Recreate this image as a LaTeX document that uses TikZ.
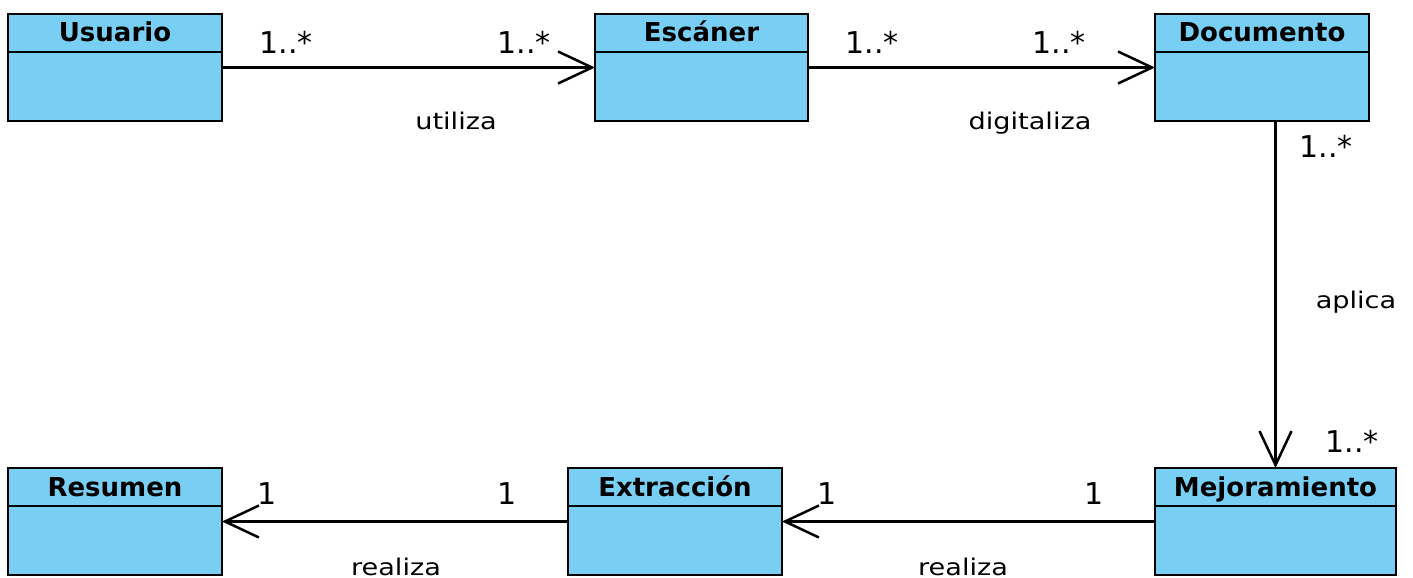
\documentclass[tikz,border=0pt]{standalone}
\usepackage{fontspec}
\setmainfont{DejaVu Sans}
\newfontfamily\rolfont[FakeStretch=1.18]{DejaVu Sans}
\usetikzlibrary{arrows.meta}
\definecolor{azulclase}{RGB}{121,207,243}

\tikzset{
  clase/.style={draw, fill=azulclase, line width=2.5pt, inner sep=0pt, outer sep=0pt, minimum width=214pt, minimum height=107pt},
  titulo/.style={anchor=base, font=\fontsize{26}{28}\selectfont\bfseries},
  mult/.style={anchor=base, font=\fontsize{30}{32}\selectfont},
  rol/.style={anchor=base, font=\rolfont\fontsize{23}{25}\selectfont},
  asoc/.style={line width=2.5pt, -{Straight Barb[length=34pt,width=32pt]}}
}

\begin{document}
\begin{tikzpicture}[x=1pt,y=-1pt]
\useasboundingbox (0,0) rectangle (1413,578);

% clases de arriba
\node [clase] (usuario) at (115,67.5) {};
\draw [line width=2.5pt] ([yshift=-38pt]usuario.north west) -- ([yshift=-38pt]usuario.north east);
\node [titulo] (usuario-t) at ([yshift=-28pt]usuario.north) {Usuario};

\node [clase, minimum width=213pt] (escaner) at (701.5,67.5) {};
\draw [line width=2.5pt] ([yshift=-38pt]escaner.north west) -- ([yshift=-38pt]escaner.north east);
\node [titulo] (escaner-t) at ([yshift=-28pt]escaner.north) {Escáner};

\node [clase] (documento) at (1262,67.5) {};
\draw [line width=2.5pt] ([yshift=-38pt]documento.north west) -- ([yshift=-38pt]documento.north east);
\node [titulo] (documento-t) at ([yshift=-28pt]documento.north) {Documento};

% clases de abajo
\node [clase, minimum width=241pt] (mejora) at (1275.5,521.5) {};
\draw [line width=2.5pt] ([yshift=-38pt]mejora.north west) -- ([yshift=-38pt]mejora.north east);
\node [titulo] (mejora-t) at ([yshift=-28pt]mejora.north) {Mejoramiento};

\node [clase] (extraccion) at (675,521.5) {};
\draw [line width=2.5pt] ([yshift=-38pt]extraccion.north west) -- ([yshift=-38pt]extraccion.north east);
\node [titulo] (extraccion-t) at ([yshift=-28pt]extraccion.north) {Extracción};

\node [clase] (resumen) at (115,521.5) {};
\draw [line width=2.5pt] ([yshift=-38pt]resumen.north west) -- ([yshift=-38pt]resumen.north east);
\node [titulo] (resumen-t) at ([yshift=-28pt]resumen.north) {Resumen};

% asociaciones
\draw [asoc] (usuario.east) -- (escaner.west);
\node [mult] (m1) at (286,53) {1..*};
\node [mult] (m2) at (524,53) {1..*};
\node [rol] (r1) at (456,129) {utiliza};

\draw [asoc] (escaner.east) -- (documento.west);
\node [mult] (m3) at (872,53) {1..*};
\node [mult] (m4) at (1059,53) {1..*};
\node [rol] (r2) at (1030,129) {digitaliza};

\draw [asoc] (mejora.north |- documento.south) -- (mejora.north);
\node [mult] (m5) at (1326,157) {1..*};
\node [mult] (m6) at (1352,452) {1..*};
\node [rol] (r3) at (1356,308) {aplica};

\draw [asoc] (mejora.west) -- (extraccion.east);
\node [mult] (m7) at (1094,504) {1};
\node [mult] (m8) at (827,504) {1};
\node [rol] (r4) at (963,575) {realiza};

\draw [asoc] (extraccion.west) -- (resumen.east);
\node [mult] (m9) at (507,504) {1};
\node [mult] (m10) at (267,504) {1};
\node [rol] (r5) at (396,575) {realiza};

\end{tikzpicture}
\end{document}
